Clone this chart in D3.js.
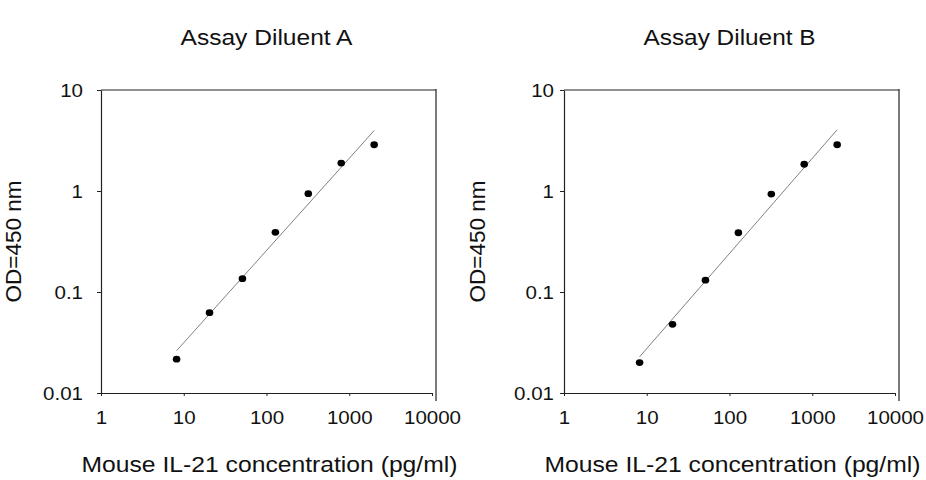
<!DOCTYPE html>
<html>
<head>
<meta charset="utf-8">
<script src="https://cdn.jsdelivr.net/npm/d3@7"></script>
<style>
  html, body { margin: 0; padding: 0; background: #fff; }
  svg { display: block; font-family: "Liberation Sans", Arial, sans-serif; }
</style>
</head>
<body>
<svg id="chart" width="926" height="480"></svg>
<script>
// ---- data ----
const panelTitles = ["Assay Diluent A", "Assay Diluent B"];
const concentrations = [8.192, 20.48, 51.2, 128, 320, 800, 2000];
const odDiluentA = [0.0216, 0.0624, 0.1355, 0.39, 0.94, 1.89, 2.87];
const odDiluentB = [0.0200, 0.0479, 0.131, 0.386, 0.933, 1.84, 2.87];
const xTickValues = [1, 10, 100, 1000, 10000];
const xTickLabels = ["1", "10", "100", "1000", "10000"];
const yTickValues = [0.01, 0.1, 1, 10];
const yTickLabels = ["0.01", "0.1", "1", "10"];
const xAxisTitle = "Mouse IL-21 concentration (pg/ml)";
const yAxisTitle = "OD=450 nm";

const svg = d3.select("#chart");
const stretch = 1.14; // horizontal widening of the source's lettering

const panels = [
  { title: panelTitles[0], ys: odDiluentA, left: 101, right: 432, yLabelX: 21, tickGap: 18 },
  { title: panelTitles[1], ys: odDiluentB, left: 564, right: 895, yLabelX: 485, tickGap: 10 }
];
const plotTop = 90, plotBottom = 393;

function powerFit(xs, ys) {
  const lx = xs.map(Math.log10), ly = ys.map(Math.log10);
  const mx = d3.mean(lx), my = d3.mean(ly);
  const sxy = d3.sum(lx, (v, i) => (v - mx) * (ly[i] - my));
  const sxx = d3.sum(lx, v => (v - mx) * (v - mx));
  const b = sxy / sxx, a = my - b * mx;
  return x => Math.pow(10, a + b * Math.log10(x));
}

function widen(sel) {
  sel.each(function () {
    const w = this.getComputedTextLength();
    d3.select(this).attr("textLength", w * stretch).attr("lengthAdjust", "spacingAndGlyphs");
  });
}

panels.forEach(p => {
  const g = svg.append("g");
  const x = d3.scaleLog().domain([1, 10000]).range([p.left, p.right]);
  const y = d3.scaleLog().domain([0.01, 10]).range([plotBottom, plotTop]);
  const cx = (p.left + p.right) / 2;

  // title
  g.append("text")
    .attr("x", cx).attr("y", 45)
    .attr("text-anchor", "middle")
    .attr("font-size", 22)
    .attr("textLength", 172).attr("lengthAdjust", "spacingAndGlyphs")
    .attr("fill", "#111")
    .text(p.title);

  // frame (top and right)
  g.append("line")
    .attr("x1", x(1)).attr("x2", x(10000) + 4)
    .attr("y1", y(10)).attr("y2", y(10))
    .attr("stroke", "#222").attr("stroke-width", 1.2);
  g.append("line")
    .attr("x1", x(10000) + 4).attr("x2", x(10000) + 4)
    .attr("y1", y(10) - 1).attr("y2", y(0.01) + 8)
    .attr("stroke", "#222").attr("stroke-width", 1.2);

  // x axis
  const xa = g.append("g")
    .attr("transform", `translate(0,${plotBottom})`)
    .call(d3.axisBottom(x).tickValues(xTickValues)
      .tickFormat((d, i) => xTickLabels[i]).tickSize(3).tickSizeOuter(0));
  xa.select(".domain").attr("stroke", "#222").attr("stroke-width", 1.2);
  xa.selectAll(".tick line").attr("stroke", "#222");
  xa.selectAll(".tick text")
    .attr("font-size", 18).attr("fill", "#111")
    .attr("font-family", "Liberation Sans, Arial, sans-serif")
    .attr("y", 0).attr("dy", "30.5")
    .call(widen);

  // y axis
  const ya = g.append("g")
    .attr("transform", `translate(${p.left},0)`)
    .call(d3.axisLeft(y).tickValues(yTickValues)
      .tickFormat((d, i) => yTickLabels[i]).tickSize(4).tickSizeOuter(0));
  ya.select(".domain").attr("stroke", "#222").attr("stroke-width", 1.2);
  ya.selectAll(".tick line").attr("stroke", "#222");
  ya.selectAll(".tick text")
    .attr("font-size", 18).attr("fill", "#111")
    .attr("font-family", "Liberation Sans, Arial, sans-serif")
    .attr("x", -p.tickGap).attr("dy", "0.35em")
    .call(widen);

  // axis titles
  g.append("text")
    .attr("x", cx + 3).attr("y", 472)
    .attr("text-anchor", "middle")
    .attr("font-size", 22)
    .attr("textLength", 376).attr("lengthAdjust", "spacingAndGlyphs")
    .attr("fill", "#111")
    .text(xAxisTitle);
  g.append("text")
    .attr("transform", `translate(${p.yLabelX},${(plotTop + plotBottom) / 2}) rotate(-90)`)
    .attr("text-anchor", "middle")
    .attr("font-size", 22)
    .attr("textLength", 122).attr("lengthAdjust", "spacingAndGlyphs")
    .attr("fill", "#111")
    .text(yAxisTitle);

  // trend line (power fit)
  const f = powerFit(concentrations, p.ys);
  const ends = [d3.min(concentrations), d3.max(concentrations)];
  g.append("path")
    .datum(ends)
    .attr("d", d3.line().x(d => x(d)).y(d => y(f(d))))
    .attr("stroke", "#808080").attr("stroke-width", 1).attr("fill", "none");

  // points
  g.selectAll("ellipse.pt")
    .data(concentrations.map((c, i) => [c, p.ys[i]]))
    .join("ellipse")
    .attr("class", "pt")
    .attr("cx", d => x(d[0])).attr("cy", d => y(d[1]))
    .attr("rx", 3.8).attr("ry", 3.4)
    .attr("fill", "#000");
});
</script>
</body>
</html>
